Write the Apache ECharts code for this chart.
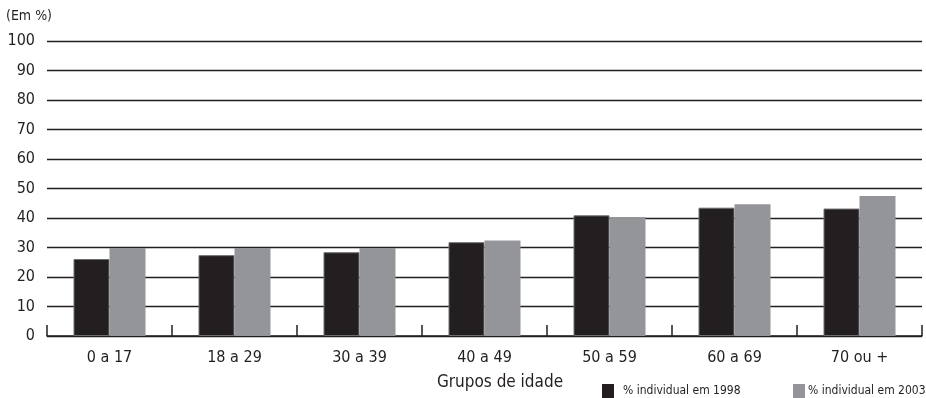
<!DOCTYPE html>
<html>
<head>
<meta charset="utf-8">
<script src="https://cdn.jsdelivr.net/npm/echarts@6/dist/echarts.min.js"></script>
<style>
  html, body { margin: 0; padding: 0; background: #fff; }
  #chart { width: 926px; height: 398px; }
</style>
</head>
<body>
<div id="chart"></div>
<script>
// Age groups and shares (%) for the two survey years
const ageGroups = ['0 a 17', '18 a 29', '30 a 39', '40 a 49', '50 a 59', '60 a 69', '70 ou +'];
const share1998 = [26.1, 27.4, 28.4, 31.8, 40.9, 43.5, 43.2];
const share2003 = [29.8, 29.8, 29.8, 32.4, 40.3, 44.7, 47.5];
const seriesNames = ['% individual em 1998', '% individual em 2003'];
const unitLabel = '(Em %)';
const xAxisTitle = 'Grupos de idade';

const FONT = "'Liberation Sans Narrow', 'DejaVu Sans Condensed', 'Noto Sans', sans-serif";
const INK = '#231f20';

function legendAt(left, name, textPadLeft) {
  return {
    left: left,
    top: 384,
    padding: 0,
    itemWidth: 12,
    itemHeight: 14,
    icon: 'rect',
    itemStyle: { borderWidth: 0 },
    data: [name],
    textStyle: { fontFamily: FONT, fontSize: 12, color: INK, padding: [0, 0, 0, textPadLeft] }
  };
}

const chart = echarts.init(document.getElementById('chart'), null, { renderer: 'canvas' });

chart.setOption({
  animation: false,
  textStyle: { fontFamily: FONT, color: INK },
  grid: { left: 47, right: 4, top: 41, bottom: 62, containLabel: false },
  // one legend per series so each entry sits at its own spot
  legend: [
    legendAt(602, seriesNames[0], 4),
    legendAt(793, seriesNames[1], -2)
  ],
  graphic: [
    {
      type: 'text', left: 6, top: 9,
      style: { text: unitLabel, font: '14px ' + FONT, fill: INK }
    },
    {
      type: 'text', x: 500, y: 383,
      style: { text: xAxisTitle, font: '17px ' + FONT, fill: INK, align: 'center', verticalAlign: 'middle' }
    }
  ],
  xAxis: {
    type: 'category',
    data: ageGroups,
    axisLine: { show: true, lineStyle: { color: INK, width: 1.5 } },
    axisTick: { show: true, inside: true, length: 11, alignWithLabel: false, lineStyle: { color: INK, width: 1.5 } },
    axisLabel: { fontSize: 16, color: INK, margin: 14, fontFamily: FONT }
  },
  yAxis: {
    type: 'value',
    min: 0,
    max: 100,
    interval: 10,
    axisLine: { show: false },
    axisTick: { show: false },
    axisLabel: { fontSize: 16, color: INK, margin: 12, fontFamily: FONT },
    splitLine: { show: true, lineStyle: { color: INK, width: 1.4 } }
  },
  series: [
    {
      name: seriesNames[0],
      type: 'bar',
      data: share1998,
      barWidth: 36,
      barGap: '0%',
      itemStyle: { color: INK, borderColor: '#6d6e71', borderWidth: 1 },
      z: 3
    },
    {
      name: seriesNames[1],
      type: 'bar',
      data: share2003,
      barWidth: 36,
      barGap: '0%',
      itemStyle: { color: '#939598' },
      z: 3
    }
  ]
});
</script>
</body>
</html>
